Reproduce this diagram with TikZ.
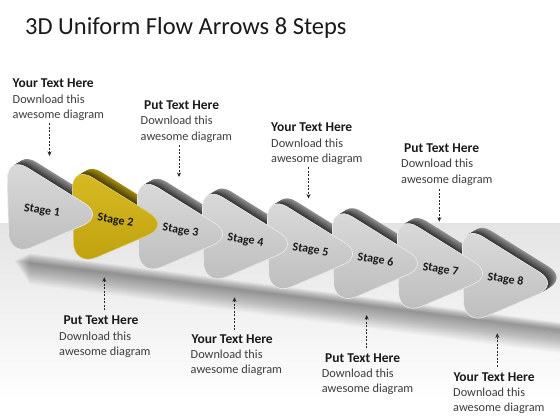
\documentclass[tikz,border=0pt]{standalone}
\usepackage{fontspec}
\setmainfont{Carlito}
\usetikzlibrary{arrows.meta}
\definecolor{facetop}{RGB}{220,220,220}
\definecolor{facebot}{RGB}{188,188,188}
\definecolor{ytop}{RGB}{216,188,36}
\definecolor{ybot}{RGB}{190,160,14}
\definecolor{ybase}{RGB}{200,170,20}
\definecolor{floortop}{RGB}{228,228,228}
\definecolor{floormid}{RGB}{240,240,240}
\definecolor{headcol}{RGB}{26,26,26}
\definecolor{bodycol}{RGB}{62,62,62}
\definecolor{rimcol}{RGB}{236,236,236}
\tikzset{
  headtext/.style={anchor=base west, inner sep=0pt, text=headcol, font=\fontsize{13.5}{16}\selectfont\bfseries},
  bodytext/.style={anchor=base west, inner sep=0pt, text=bodycol, font=\fontsize{12.3}{15}\selectfont},
  stagelabel/.style={inner sep=0pt, text=headcol, font=\fontsize{12}{14}\selectfont\bfseries, rotate=-9},
  callarrow/.style={draw=black!85, line width=0.8pt, dash pattern=on 2pt off 1.5pt, -{Stealth[length=4.5pt,width=4pt]}},
  titletext/.style={anchor=base west, inner sep=0pt, text=headcol, font=\fontsize{24.5}{28}\selectfont},
}
\newcommand\stageshp[1]{\path[#1] (-2,43) -- (-3,-8) -- (95,53) -- (-1,94) -- cycle;}
\begin{document}
\begin{tikzpicture}[x=1pt,y=-1pt]
\useasboundingbox (0,0) rectangle (560,420);
\fill[white] (0,0) rectangle (560,420);
\shade[top color=floortop, middle color=floormid, bottom color=white] (0,223) rectangle (560,405);
% floor shadow (soft)
\foreach \w in {1,...,26}{
  \fill[black, opacity=0.016] ({14+0.6*\w},{261-0.3*\w}) -- (560,{330-0.3*\w}) -- (560,{330+0.9*\w}) -- ({14+0.6*\w},{261+0.9*\w}) -- cycle;
}
% depths
\foreach \k in {8,...,1}{
  \pgfmathsetmacro\tx{10+65*(\k-1)}
  \pgfmathsetmacro\ty{163+9.83*(\k-1)}
  \begin{scope}[shift={(\tx,\ty)}]
    \foreach \i in {10,...,1}{
      \pgfmathtruncatemacro\g{84-4*\i}
      \pgfmathtruncatemacro\yy{32+5*\i}
      \ifnum\k=2 \def\dc{ybase!\yy!black}\else\def\dc{black!\g}\fi
      \stageshp{fill=\dc, rounded corners=24, shift={(0.9*\i,-0.55*\i)}}
    }
  \end{scope}
}
% faces
\foreach \k in {8,...,1}{
  \pgfmathsetmacro\tx{10+65*(\k-1)}
  \pgfmathsetmacro\ty{163+9.83*(\k-1)}
  \begin{scope}[shift={(\tx,\ty)}]
    \ifnum\k=2
      \stageshp{shade, top color=ytop, bottom color=ybot, draw=ybase!60!white, line width=0.6pt, rounded corners=24}
    \else
      \stageshp{shade, top color=facetop, bottom color=facebot, draw=rimcol, line width=0.6pt, rounded corners=24}
    \fi
  \end{scope}
}
% stage labels
\node[stagelabel] (s1) at (42,211) {Stage 1};
\node[stagelabel] (s2) at (115.5,220.8) {Stage 2};
\node[stagelabel] (s3) at (180.5,230.7) {Stage 3};
\node[stagelabel] (s4) at (245.5,240.5) {Stage 4};
\node[stagelabel] (s5) at (310.5,250.3) {Stage 5};
\node[stagelabel] (s6) at (375.5,260.2) {Stage 6};
\node[stagelabel] (s7) at (440.5,270) {Stage 7};
\node[stagelabel] (s8) at (505.5,279.8) {Stage 8};
% title
\node[titletext] (title) at (25,34.3) {3D Uniform Flow Arrows 8 Steps};
% top callouts
\node[headtext] (h1) at (12.5,88) {Your Text Here};
\node[bodytext] (b1a) at (12.5,103) {Download this};
\node[bodytext] (b1b) at (12.5,118) {awesome diagram};
\coordinate (a1s) at (49.5,123);
\coordinate (a1e) at (49.5,156);
\draw[callarrow] (a1s) -- (a1e);

\node[headtext] (h2) at (144,110) {Put Text Here};
\node[bodytext] (b2a) at (140.5,124.5) {Download this};
\node[bodytext] (b2b) at (140.5,140) {awesome diagram};
\coordinate (a2s) at (179,145);
\coordinate (a2e) at (179,177);
\draw[callarrow] (a2s) -- (a2e);

\node[headtext] (h3) at (271,131.5) {Your Text Here};
\node[bodytext] (b3a) at (271,147) {Download this};
\node[bodytext] (b3b) at (271,162.5) {awesome diagram};
\coordinate (a3s) at (308.5,167);
\coordinate (a3e) at (308.5,198.5);
\draw[callarrow] (a3s) -- (a3e);

\node[headtext] (h4) at (404,152.5) {Put Text Here};
\node[bodytext] (b4a) at (401,167.5) {Download this};
\node[bodytext] (b4b) at (401,183) {awesome diagram};
\coordinate (a4s) at (439.3,189);
\coordinate (a4e) at (439.3,221.7);
\draw[callarrow] (a4s) -- (a4e);
% bottom callouts
\coordinate (a5s) at (104.3,310);
\coordinate (a5e) at (104.3,277.3);
\draw[callarrow] (a5s) -- (a5e);
\node[headtext] (h5) at (63.3,324) {Put Text Here};
\node[bodytext] (b5a) at (59,340.5) {Download this};
\node[bodytext] (b5b) at (59,355.5) {awesome diagram};

\coordinate (a6s) at (234.5,330);
\coordinate (a6e) at (234.5,297.3);
\draw[callarrow] (a6s) -- (a6e);
\node[headtext] (h6) at (191.5,343) {Your Text Here};
\node[bodytext] (b6a) at (190.5,358.5) {Download this};
\node[bodytext] (b6b) at (190.5,373.5) {awesome diagram};

\coordinate (a7s) at (366.7,348);
\coordinate (a7e) at (366.7,315);
\draw[callarrow] (a7s) -- (a7e);
\node[headtext] (h7) at (325,362.3) {Put Text Here};
\node[bodytext] (b7a) at (321.7,377.3) {Download this};
\node[bodytext] (b7b) at (321.7,392) {awesome diagram};

\coordinate (a8s) at (497.3,366.7);
\coordinate (a8e) at (497.3,333.3);
\draw[callarrow] (a8s) -- (a8e);
\node[headtext] (h8) at (453.3,381) {Your Text Here};
\node[bodytext] (b8a) at (453,396) {Download this};
\node[bodytext] (b8b) at (453,411) {awesome diagram};
\end{tikzpicture}
\end{document}
